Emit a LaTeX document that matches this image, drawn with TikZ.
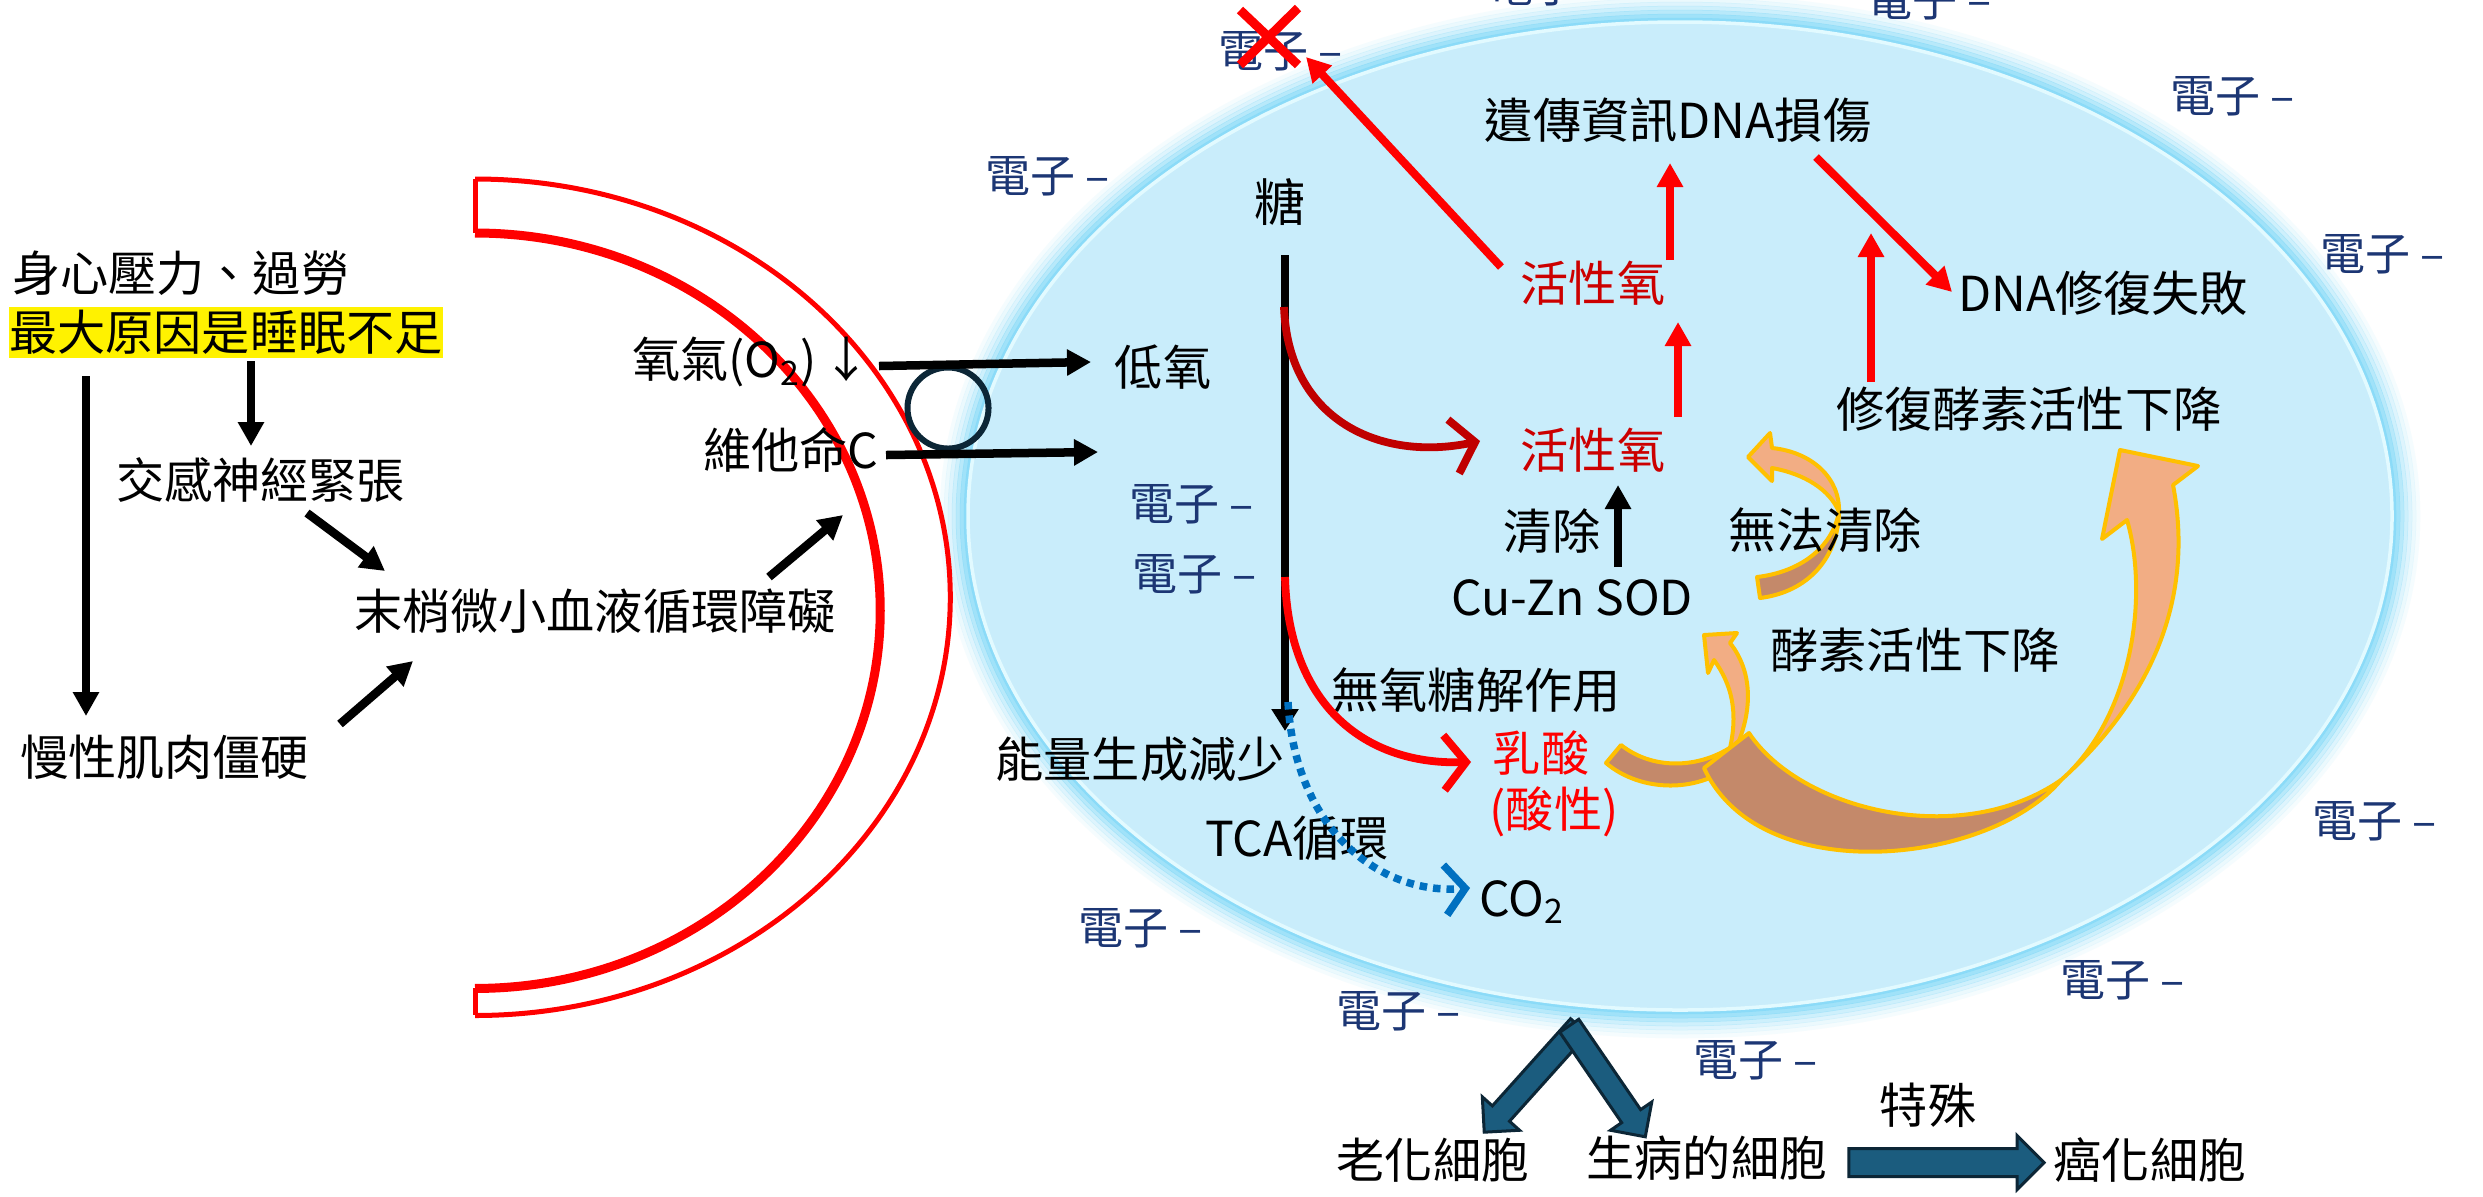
\documentclass[tikz,border=0pt]{standalone}
\usepackage{fontspec}
\setmainfont{Noto Sans CJK TC}
\usetikzlibrary{arrows.meta,shapes.arrows}

\definecolor{cellfill}{HTML}{C9EDFB}
\definecolor{cellglow}{HTML}{86DAF8}
\definecolor{cellrim}{HTML}{E2FAFF}
\definecolor{eblue}{HTML}{1C3674}
\definecolor{rosred}{HTML}{CC0000}
\definecolor{darkred}{HTML}{C00000}
\definecolor{flowblue}{HTML}{0070C0}
\definecolor{salmon}{HTML}{F2AD84}
\definecolor{ribbonback}{HTML}{C4896A}
\definecolor{gold}{HTML}{FFC000}
\definecolor{navyfill}{HTML}{1B5C7E}
\definecolor{navyline}{HTML}{0C2636}
\definecolor{vessel}{HTML}{FF0000}

\tikzset{
  lbl/.style={inner sep=0pt, outer sep=0pt, font=\fontsize{13.7}{16}\selectfont},
  elec/.style={lbl, text=eblue, font=\fontsize{12.8}{15}\selectfont, anchor=west},
  blk/.style={line width=0.085cm, -{Triangle[length=0.24cm,width=0.25cm]}},
  redarrow/.style={draw=red, line width=0.08cm, -{Triangle[length=0.24cm,width=0.25cm]}},
  ribbon/.style={draw=gold, line width=0.04cm, line join=round},
  blockarrow/.style={single arrow, draw=navyline, fill=navyfill, line width=0.03cm,
    inner sep=0.1cm, outer sep=0pt, minimum width=0pt,
    single arrow head extend=0.135cm, single arrow tip angle=90},
}

\begin{document}
\begin{tikzpicture}[x=0.01cm,y=-0.01cm]
\useasboundingbox (0,0) rectangle (2483,1196);
\fill[white] (0,0) rectangle (2483,1196);

% ---- cell body with soft glow ----
\foreach \r/\o in {26/0.08,22/0.16,18/0.27,14/0.4,10/0.58,6/0.78,2/0.95}{
  \draw[cellglow, opacity=\o, line width=0.045cm] (1680,516) ellipse [x radius=712+\r, y radius=494+\r];
}
\fill[cellfill] (1680,516) ellipse [x radius=712, y radius=494];
\draw[cellrim, line width=0.035cm] (1680,516) ellipse [x radius=712, y radius=494];

% ---- blood vessel wall ----
\draw[vessel, line width=0.05cm] (475,179) arc[start angle=90, end angle=-90, x radius=4.75cm, y radius=4.18cm];
\draw[vessel, line width=0.09cm] (475,233) arc[start angle=90, end angle=-90, x radius=4.05cm, y radius=3.775cm];
\draw[vessel, line width=0.05cm] (475,179) -- (475,233);
\draw[vessel, line width=0.05cm] (475,988) -- (475,1015);

% ---- membrane channel ----
\node[circle, draw=navyline, line width=0.06cm, minimum size=0.81cm, inner sep=0pt] (pore) at (948,408) {};

% ---- curved ribbon arrows ----
\filldraw[ribbon, fill=ribbonback] (1757,577) -- (1760,598) .. controls (1808,592) and (1838,558) .. (1839,512) .. controls (1832,548) and (1800,572) .. (1757,577) -- cycle;
\filldraw[ribbon, fill=salmon] (1839,512) .. controls (1840,478) and (1812,452) .. (1772,448) -- (1770,433) -- (1748,457) -- (1772,481) -- (1772,468) .. controls (1805,474) and (1830,490) .. (1839,512) -- cycle;

\filldraw[ribbon, fill=ribbonback] (1606,763) -- (1621,745) .. controls (1655,772) and (1705,768) .. (1738,742) -- (1738,760) .. controls (1700,795) and (1640,792) .. (1606,763) -- cycle;
\filldraw[ribbon, fill=salmon] (1736,748) .. controls (1755,705) and (1750,668) .. (1730,643) -- (1737,633) -- (1704,635) -- (1708,673) -- (1714,660) .. controls (1732,685) and (1738,712) .. (1730,748) -- cycle;

\filldraw[ribbon, fill=ribbonback] (1704,768) -- (1749,733) .. controls (1800,810) and (1960,850) .. (2061,780) .. controls (1990,865) and (1760,890) .. (1704,768) -- cycle;
\filldraw[ribbon, fill=salmon] (2061,780) .. controls (2150,700) and (2195,600) .. (2173,485) -- (2198,466) -- (2120,450) -- (2102,539) -- (2127,520) .. controls (2150,600) and (2130,720) .. (2061,780) -- cycle;

% ---- labels ----
\node[lbl, anchor=west] (stress) at (12,273) {身心壓力、過勞};
\node[lbl, fill=yellow, minimum height=0.51cm] (sleep) at (226,332) {最大原因是睡眠不足};
\node[lbl, anchor=west] (symp) at (116,480) {交感神經緊張};
\node[lbl, anchor=west] (circ) at (354,611) {末梢微小血液循環障礙};
\node[lbl, anchor=west] (muscle) at (20,757) {慢性肌肉僵硬};
\node[lbl, anchor=west] (oxy) at (632,362) {氧氣(O\textsubscript{2})\hspace{0.12em}↓};
\node[lbl, anchor=west] (vitc) at (703,450) {維他命C};
\node[lbl] (hypox) at (1163,367) {低氧};
\node[lbl, font=\fontsize{14.5}{17}\selectfont] (sugar) at (1280,202) {糖};
\node[lbl, text=rosred] (rosup) at (1593,283) {活性氧};
\node[lbl, text=rosred] (roslow) at (1593,450) {活性氧};
\node[lbl] (dnadmg) at (1678,120) {遺傳資訊DNA損傷};
\node[lbl, anchor=west] (dnafail) at (1958,293) {DNA修復失敗};
\node[lbl, anchor=west] (repair) at (1836,409) {修復酵素活性下降};
\node[lbl] (clear) at (1552,531) {清除};
\node[lbl] (sod) at (1572,598) {Cu-Zn SOD};
\node[lbl] (noclear) at (1825,530) {無法清除};
\node[lbl] (enzyme) at (1915,650) {酵素活性下降};
\node[lbl] (anaer) at (1476,690) {無氧糖解作用};
\node[lbl, text=red] (lactic) at (1541,753) {乳酸};
\node[lbl, text=red] (acid) at (1554,812) {(酸性)};
\node[lbl] (energy) at (1140,759) {能量生成減少};
\node[lbl] (tca) at (1297,838) {TCA循環};
\node[lbl] (co2) at (1522,902) {CO\textsubscript{2}};
\node[lbl] (special) at (1928,1105) {特殊};
\node[lbl] (aged) at (1433,1160) {老化細胞};
\node[lbl] (sick) at (1707,1158) {生病的細胞};
\node[lbl] (cancer) at (2150,1160) {癌化細胞};

% ---- free electrons ----
\node[elec] (e1) at (1488,-14) {電子 –};
\node[elec] (e2) at (1867,0) {電子 –};
\node[elec] (e3) at (2170,96) {電子 –};
\node[elec] (e4) at (2320,254) {電子 –};
\node[elec] (e5) at (2312,821) {電子 –};
\node[elec] (e6) at (2060,980) {電子 –};
\node[elec] (e7) at (1693,1060) {電子 –};
\node[elec] (e8) at (1336,1011) {電子 –};
\node[elec] (e9) at (1078,928) {電子 –};
\node[elec] (e10) at (1129,504) {電子 –};
\node[elec] (e11) at (1132,574) {電子 –};
\node[elec] (e12) at (985,176) {電子 –};
\node[elec] (e13) at (1218,51) {電子 –};

% ---- arrow end points ----
\coordinate (a1s) at (251,361);  \coordinate (a1e) at (251,446);
\coordinate (a2s) at (86,376);   \coordinate (a2e) at (86,716);
\coordinate (a3s) at (307,513);  \coordinate (a3e) at (385,571);
\coordinate (a4s) at (340,724);  \coordinate (a4e) at (413,661);
\coordinate (a5s) at (769,577);  \coordinate (a5e) at (843,515);
\coordinate (a6s) at (879,366);  \coordinate (a6e) at (1091,362);
\coordinate (a7s) at (886,455);  \coordinate (a7e) at (1098,452);
\coordinate (a8s) at (1618,567); \coordinate (a8e) at (1618,485);
\coordinate (gs) at (1285,255);  \coordinate (ge) at (1285,731);
\coordinate (r1s) at (1501,267); \coordinate (r1e) at (1306,57);
\coordinate (r2s) at (1670,260); \coordinate (r2e) at (1670,163);
\coordinate (r3s) at (1678,417); \coordinate (r3e) at (1678,322);
\coordinate (r4s) at (1816,157); \coordinate (r4e) at (1952,292);
\coordinate (r5s) at (1871,382); \coordinate (r5e) at (1871,233);
\coordinate (c1s) at (1284,307); \coordinate (c1e) at (1480,441);
\coordinate (c2s) at (1285,577); \coordinate (c2e) at (1471,762);
\coordinate (c3s) at (1288,702); \coordinate (c3e) at (1470,888);

% ---- black arrows ----
\draw[blk] (a1s) -- (a1e);
\draw[blk] (a2s) -- (a2e);
\draw[blk] (a3s) -- (a3e);
\draw[blk] (a4s) -- (a4e);
\draw[blk] (a5s) -- (a5e);
\draw[blk] (a6s) -- (a6e);
\draw[blk] (a7s) -- (a7e);
\draw[blk] (a8s) -- (a8e);
\draw[line width=0.078cm, -{Triangle[length=0.22cm,width=0.26cm]}] (gs) -- (ge);

% ---- glycolysis branches ----
\draw[darkred, line width=0.078cm, -{Straight Barb[length=0.22cm,width=0.55cm]}] (c1s) .. controls (1288,420) and (1380,462) .. (c1e);
\draw[red, line width=0.078cm, -{Straight Barb[length=0.22cm,width=0.55cm]}] (c2s) .. controls (1288,700) and (1360,765) .. (c2e);
\draw[flowblue, line width=0.075cm, dash pattern=on 0.075cm off 0.06cm, -{Straight Barb[length=0.2cm,width=0.5cm]}] (c3s) .. controls (1295,830) and (1380,895) .. (c3e);

% ---- red arrows ----
\draw[redarrow] (r1s) -- (r1e);
\draw[redarrow] (r2s) -- (r2e);
\draw[redarrow] (r3s) -- (r3e);
\draw[redarrow] (r4s) -- (r4e);
\draw[redarrow] (r5s) -- (r5e);

% ---- cross over the escaping electron ----
\draw[red, line width=0.09cm] (1240,10) -- (1298,65) (1298,8) -- (1240,65);

% ---- cell fate block arrows ----
\node[blockarrow, minimum height=1.42cm, rotate=228.1] (toaged) at (1535.5,1075) {};
\node[blockarrow, minimum height=1.345cm, rotate=-55.6] (tosick) at (1604,1076.5) {};
\node[blockarrow, inner sep=0.125cm, single arrow head extend=0.13cm, minimum height=1.95cm] (tocancer) at (1939.5,1162.5) {};

\end{tikzpicture}
\end{document}
